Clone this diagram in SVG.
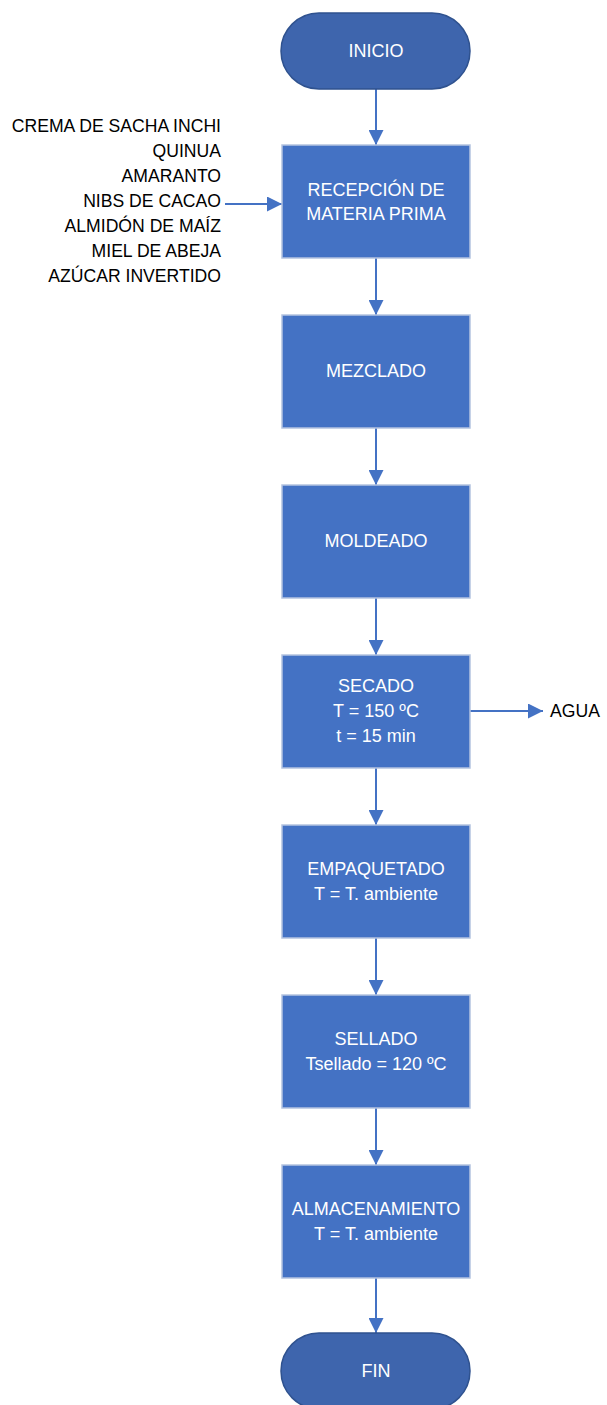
<svg xmlns="http://www.w3.org/2000/svg" width="607" height="1405" viewBox="0 0 607 1405">
  <style>
    .term { fill: #3E65AD; stroke: #2F528F; stroke-width: 1.5; }
    .proc { fill: #4472C4; stroke: #B4C3E0; stroke-width: 1.5; }
    .lbl { font-family: "Liberation Sans", Arial, sans-serif; font-size: 18px; fill: #FFFFFF; text-anchor: middle; }
    .side { font-family: "Liberation Sans", Arial, sans-serif; font-size: 17.6px; fill: #000000; }
    .conn { stroke: #4472C4; stroke-width: 2; fill: none; marker-end: url(#head); }
  </style>
  <defs>
    <marker id="head" viewBox="0 0 15 15" refX="15" refY="7.5" markerWidth="15" markerHeight="15" markerUnits="userSpaceOnUse" orient="auto">
      <path d="M0,0 L15,7.5 L0,15 Z" fill="#4472C4"/>
    </marker>
  </defs>
  <rect width="607" height="1405" fill="#FFFFFF"/>

  <g id="connectors">
    <line class="conn" x1="376" y1="89" x2="376" y2="145"/>
    <line class="conn" x1="225" y1="204" x2="282" y2="204"/>
    <line class="conn" x1="376" y1="258" x2="376" y2="315"/>
    <line class="conn" x1="376" y1="428" x2="376" y2="485"/>
    <line class="conn" x1="376" y1="598" x2="376" y2="655"/>
    <line class="conn" x1="470" y1="711" x2="543" y2="711"/>
    <line class="conn" x1="376" y1="768" x2="376" y2="825"/>
    <line class="conn" x1="376" y1="938" x2="376" y2="995"/>
    <line class="conn" x1="376" y1="1108" x2="376" y2="1165"/>
    <line class="conn" x1="376" y1="1278" x2="376" y2="1333"/>
  </g>

  <g id="inicio">
    <rect class="term" x="281" y="13" width="189" height="76" rx="38" ry="38"/>
    <text class="lbl" x="376" y="57">INICIO</text>
  </g>

  <g id="insumos">
    <text class="side" text-anchor="end" x="221" y="132">CREMA DE SACHA INCHI</text>
    <text class="side" text-anchor="end" x="221" y="157">QUINUA</text>
    <text class="side" text-anchor="end" x="221" y="182">AMARANTO</text>
    <text class="side" text-anchor="end" x="221" y="207">NIBS DE CACAO</text>
    <text class="side" text-anchor="end" x="221" y="232">ALMIDÓN DE MAÍZ</text>
    <text class="side" text-anchor="end" x="221" y="257">MIEL DE ABEJA</text>
    <text class="side" text-anchor="end" x="221" y="282">AZÚCAR INVERTIDO</text>
  </g>

  <g id="recepcion">
    <rect class="proc" x="282" y="145" width="188" height="113"/>
    <text class="lbl" x="376" y="196">RECEPCIÓN DE</text>
    <text class="lbl" x="376" y="220">MATERIA PRIMA</text>
  </g>

  <g id="mezclado">
    <rect class="proc" x="282" y="315" width="188" height="113"/>
    <text class="lbl" x="376" y="377">MEZCLADO</text>
  </g>

  <g id="moldeado">
    <rect class="proc" x="282" y="485" width="188" height="113"/>
    <text class="lbl" x="376" y="547">MOLDEADO</text>
  </g>

  <g id="secado">
    <rect class="proc" x="282" y="655" width="188" height="113"/>
    <text class="lbl" x="376" y="692">SECADO</text>
    <text class="lbl" x="376" y="717">T = 150 ºC</text>
    <text class="lbl" x="376" y="742">t = 15 min</text>
  </g>

  <g id="agua">
    <text class="side" x="550" y="717">AGUA</text>
  </g>

  <g id="empaquetado">
    <rect class="proc" x="282" y="825" width="188" height="113"/>
    <text class="lbl" x="376" y="875">EMPAQUETADO</text>
    <text class="lbl" x="376" y="900">T = T. ambiente</text>
  </g>

  <g id="sellado">
    <rect class="proc" x="282" y="995" width="188" height="113"/>
    <text class="lbl" x="376" y="1045">SELLADO</text>
    <text class="lbl" x="376" y="1070">Tsellado = 120 ºC</text>
  </g>

  <g id="almacenamiento">
    <rect class="proc" x="282" y="1165" width="188" height="113"/>
    <text class="lbl" x="376" y="1215">ALMACENAMIENTO</text>
    <text class="lbl" x="376" y="1240">T = T. ambiente</text>
  </g>

  <g id="fin">
    <rect class="term" x="281" y="1333" width="189" height="76" rx="38" ry="38"/>
    <text class="lbl" x="376" y="1377">FIN</text>
  </g>
</svg>
